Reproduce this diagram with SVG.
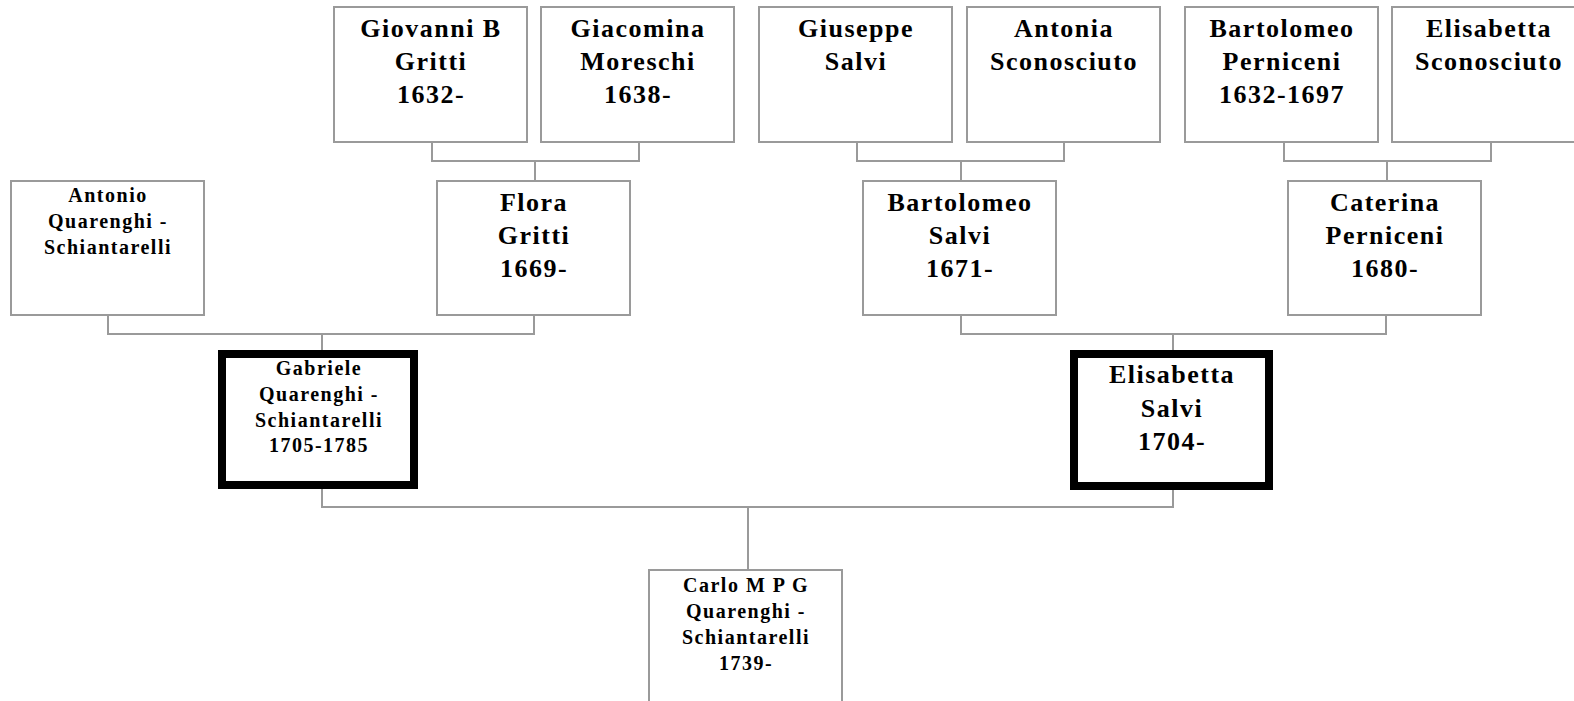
<svg xmlns="http://www.w3.org/2000/svg" width="1574" height="701" viewBox="0 0 1574 701">
<style>
.box{fill:#fff;stroke:#9a9a9a;stroke-width:2}
.focus{fill:#fff;stroke:#000;stroke-width:8}
text{font-family:'Liberation Serif','Times New Roman','DejaVu Serif',serif;font-weight:bold;text-anchor:middle;fill:#000}
.big{font-size:26px;letter-spacing:1.5px}
.sm{font-size:20px;letter-spacing:1.5px}
.con{fill:none;stroke:#9a9a9a;stroke-width:2}
</style>
<rect width="1574" height="701" fill="#fff"/>
<g id="connectors">
<path class="con" d="M432 142V161H639V142M535 161V181"/>
<path class="con" d="M857 142V161H1064V142M961 161V181"/>
<path class="con" d="M1284 142V161H1491V142M1387 161V181"/>
<path class="con" d="M108 315V334H534V315M322 334V350"/>
<path class="con" d="M961 315V334H1386V315M1173 334V350"/>
<path class="con" d="M322 489V507H1173V490M748 507V570"/>
</g>
<g id="giovanni"><rect class="box" x="334" y="7" width="193" height="135"/>
<text class="big" x="431" y="37">Giovanni B</text><text class="big" x="431" y="70">Gritti</text><text class="big" x="431" y="103">1632-</text></g>
<g id="giacomina"><rect class="box" x="541" y="7" width="193" height="135"/>
<text class="big" x="638" y="37">Giacomina</text><text class="big" x="638" y="70">Moreschi</text><text class="big" x="638" y="103">1638-</text></g>
<g id="giuseppe"><rect class="box" x="759" y="7" width="193" height="135"/>
<text class="big" x="856" y="37">Giuseppe</text><text class="big" x="856" y="70">Salvi</text></g>
<g id="antonia"><rect class="box" x="967" y="7" width="193" height="135"/>
<text class="big" x="1064" y="37">Antonia</text><text class="big" x="1064" y="70">Sconosciuto</text></g>
<g id="bartolomeo_p"><rect class="box" x="1185" y="7" width="193" height="135"/>
<text class="big" x="1282" y="37">Bartolomeo</text><text class="big" x="1282" y="70">Perniceni</text><text class="big" x="1282" y="103">1632-1697</text></g>
<g id="elisabetta_s"><rect class="box" x="1392" y="7" width="193" height="135"/>
<text class="big" x="1489" y="37">Elisabetta</text><text class="big" x="1489" y="70">Sconosciuto</text></g>
<g id="antonio"><rect class="box" x="11" y="181" width="193" height="134"/>
<text class="sm" x="108" y="202">Antonio</text><text class="sm" x="108" y="228">Quarenghi -</text><text class="sm" x="108" y="254">Schiantarelli</text></g>
<g id="flora"><rect class="box" x="437" y="181" width="193" height="134"/>
<text class="big" x="534" y="211">Flora</text><text class="big" x="534" y="244">Gritti</text><text class="big" x="534" y="277">1669-</text></g>
<g id="bartolomeo_s"><rect class="box" x="863" y="181" width="193" height="134"/>
<text class="big" x="960" y="211">Bartolomeo</text><text class="big" x="960" y="244">Salvi</text><text class="big" x="960" y="277">1671-</text></g>
<g id="caterina"><rect class="box" x="1288" y="181" width="193" height="134"/>
<text class="big" x="1385" y="211">Caterina</text><text class="big" x="1385" y="244">Perniceni</text><text class="big" x="1385" y="277">1680-</text></g>
<g id="gabriele"><rect class="focus" x="222" y="354" width="192" height="131"/>
<text class="sm" x="319" y="375">Gabriele</text><text class="sm" x="319" y="401">Quarenghi -</text><text class="sm" x="319" y="427">Schiantarelli</text><text class="sm" x="319" y="452">1705-1785</text></g>
<g id="elisabetta"><rect class="focus" x="1074" y="354" width="195" height="132"/>
<text class="big" x="1172" y="383">Elisabetta</text><text class="big" x="1172" y="417">Salvi</text><text class="big" x="1172" y="450">1704-</text></g>
<g id="carlo"><rect class="box" x="649" y="570" width="193" height="140"/>
<text class="sm" x="746" y="592">Carlo M P G</text><text class="sm" x="746" y="618">Quarenghi -</text><text class="sm" x="746" y="644">Schiantarelli</text><text class="sm" x="746" y="670">1739-</text></g>
</svg>
